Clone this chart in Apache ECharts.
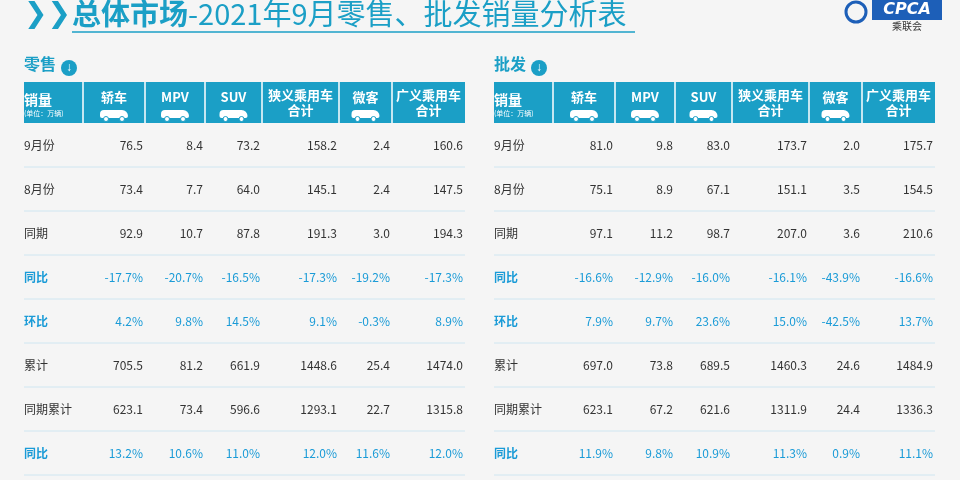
<!DOCTYPE html><html><head><meta charset="utf-8"><script src="https://cdn.jsdelivr.net/npm/echarts@6/dist/echarts.min.js"></script>
<style>html,body{margin:0;background:#f5f5f5}#c{width:960px;height:480px}</style></head><body><div id="c"></div><script>
const columns=['轿车','MPV','SUV','狭义乘用车\n合计','微客','广义乘用车\n合计'];
const rowLabels=['9月份','8月份','同期','同比','环比','累计','同期累计','同比'];
const highlightRows=[3,4,7];
const retail=[
['76.5','8.4','73.2','158.2','2.4','160.6'],
['73.4','7.7','64.0','145.1','2.4','147.5'],
['92.9','10.7','87.8','191.3','3.0','194.3'],
['-17.7%','-20.7%','-16.5%','-17.3%','-19.2%','-17.3%'],
['4.2%','9.8%','14.5%','9.1%','-0.3%','8.9%'],
['705.5','81.2','661.9','1448.6','25.4','1474.0'],
['623.1','73.4','596.6','1293.1','22.7','1315.8'],
['13.2%','10.6%','11.0%','12.0%','11.6%','12.0%']];
const wholesale=[
['81.0','9.8','83.0','173.7','2.0','175.7'],
['75.1','8.9','67.1','151.1','3.5','154.5'],
['97.1','11.2','98.7','207.0','3.6','210.6'],
['-16.6%','-12.9%','-16.0%','-16.1%','-43.9%','-16.6%'],
['7.9%','9.7%','23.6%','15.0%','-42.5%','13.7%'],
['697.0','73.8','689.5','1460.3','24.6','1484.9'],
['623.1','67.2','621.6','1311.9','24.4','1336.3'],
['11.9%','9.8%','10.9%','11.3%','0.9%','11.1%']];
const carIcon=[true,true,true,false,true,false];
const edges=[0,59,121,181,238,315,368,441];
const TEAL='#1b9fc6',BLUE='#1a9bd7';
function build(data){const out=[];rowLabels.forEach((l,r)=>{out.push([0,r,l]);data[r].forEach((v,c)=>out.push([c+1,r,v]));});return out;}
function render(params,api){
 const c=api.value(0),r=api.value(1);
 const p0=api.coord([edges[c],r]);const p1=api.coord([edges[c+1],r]);
 const h=api.size([0,1])[1];const y=p0[1];
 const hl=highlightRows.includes(r);
 const kids=[{type:'line',shape:{x1:p0[0],y1:y+h/2,x2:p1[0],y2:y+h/2},style:{stroke:'#cfe6f1',lineWidth:1}}];
 kids.push({type:'text',style:{text:api.value(2),x:c===0?p0[0]:p1[0]-2,y:y,align:c===0?'left':'right',verticalAlign:'middle',fill:hl?BLUE:'#333',font:(hl&&c===0?'bold ':'')+'12px "Noto Sans CJK SC", sans-serif'}});
 return {type:'group',children:kids};
}
const chart=echarts.init(document.getElementById('c'));
const grids=[{left:24,top:123,width:441,height:352},{left:494,top:123,width:441,height:352}];
function header(x0,title){
 const g=[];
 g.push({type:'text',left:x0,top:56,style:{text:title,fill:TEAL,font:'bold 16px "Noto Sans CJK SC"'}});
 g.push({type:'circle',shape:{cx:x0+45,cy:68,r:8},style:{fill:TEAL}});
 g.push({type:'text',x:x0+45,y:68,style:{text:'↓',align:'center',verticalAlign:'middle',fill:'#fff',font:'bold 12px sans-serif'}});
 g.push({type:'rect',shape:{x:x0,y:82,width:441,height:41},style:{fill:TEAL}});
 for(let i=1;i<edges.length-1;i++)g.push({type:'line',shape:{x1:x0+edges[i],y1:82,x2:x0+edges[i],y2:123},style:{stroke:'#fff',lineWidth:1.5}});
 g.push({type:'text',x:x0,y:100,style:{text:'销量',fill:'#fff',verticalAlign:'middle',font:'bold 14px "Noto Sans CJK SC"'}});
 g.push({type:'text',x:x0,y:113,style:{text:'(单位：万辆)',fill:'#fff',verticalAlign:'middle',font:'7px "Noto Sans CJK SC"'}});
 columns.forEach((c,i)=>{const cx=x0+(edges[i+1]+edges[i+2])/2;const two=c.includes('\n');
  g.push({type:'text',x:cx,y:two?103:97,style:{text:c,align:'center',verticalAlign:'middle',fill:'#fff',lineHeight:15,font:'bold 13px "Noto Sans CJK SC"'}});
  if(carIcon[i]){g.push({type:'rect',shape:{x:cx-14,y:110,width:28,height:8,r:[4,6,2,2]},style:{fill:'#fff'}});
   g.push({type:'circle',shape:{cx:cx-8,cy:119,r:2.5},style:{fill:'#fff',stroke:TEAL}});g.push({type:'circle',shape:{cx:cx+8,cy:119,r:2.5},style:{fill:'#fff',stroke:TEAL}});}
 });
 return g;
}
const graphic=[
 {type:'text',x:24,y:15,style:{text:'❯❯',fill:TEAL,verticalAlign:'middle',font:'bold 28px "DejaVu Sans"'}},
 {type:'text',x:72,y:14,style:{rich:{a:{fill:TEAL,font:'bold 29px "Noto Sans CJK SC"'},b:{fill:TEAL,font:'29px "Noto Sans CJK SC"'}},text:'{a|总体市场}{b|-2021年9月零售、批发销量分析表}',verticalAlign:'middle'}},
 {type:'line',shape:{x1:72,y1:32,x2:635,y2:32},style:{stroke:TEAL,lineWidth:1.5}},
 {type:'rect',shape:{x:872,y:0,width:70,height:20},style:{fill:'#1d5fb8'}},
 {type:'text',x:907,y:10,style:{text:'CPCA',align:'center',verticalAlign:'middle',fill:'#fff',font:'italic bold 16px "DejaVu Sans"'}},
 {type:'text',x:907,y:26,style:{text:'乘联会',align:'center',verticalAlign:'middle',fill:'#333',font:'10px "Noto Sans CJK SC"'}},
 {type:'circle',shape:{cx:856,cy:12,r:10},style:{fill:'none',stroke:'#1d5fb8',lineWidth:3}},
 ...header(24,'零售'),...header(494,'批发')];
chart.setOption({animation:false,grid:grids,graphic,
 xAxis:grids.map((g,i)=>({type:'value',gridIndex:i,min:0,max:441,show:false})),
 yAxis:grids.map((g,i)=>({type:'category',gridIndex:i,data:rowLabels.map((l,k)=>k),inverse:true,show:false})),
 series:[{type:'custom',xAxisIndex:0,yAxisIndex:0,renderItem:render,data:build(retail)},
  {type:'custom',xAxisIndex:1,yAxisIndex:1,renderItem:render,data:build(wholesale)}]});
</script></body></html>
